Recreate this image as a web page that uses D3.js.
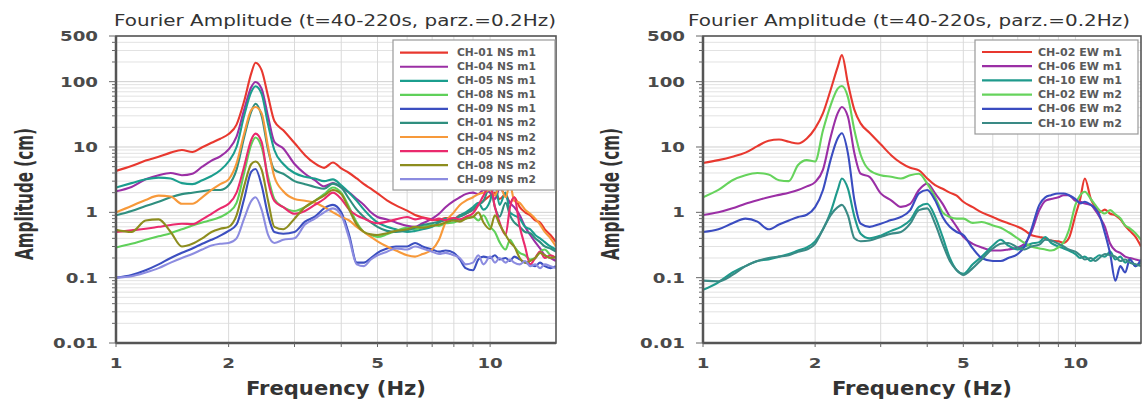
<!DOCTYPE html>
<html>
<head>
<meta charset="utf-8">
<script src="https://cdn.jsdelivr.net/npm/d3@7"></script>
<style>
  body { margin: 0; background: #fff; }
  svg { display: block; }
</style>
</head>
<body>
<div id="chart"></div>
<script>
// frequency grid shared by every curve (Hz)
const freqHz = [1.0, 1.1, 1.2, 1.3, 1.4, 1.5, 1.6, 1.7, 1.8, 1.9,
  2.0, 2.1, 2.2, 2.3, 2.36, 2.45, 2.55, 2.65, 2.8, 3.0,
  3.2, 3.4, 3.6, 3.8, 4.0, 4.2, 4.4, 4.6, 4.8, 5.0,
  5.3, 5.6, 6.0, 6.3, 6.6, 7.0, 7.3, 7.6, 8.0, 8.3,
  8.6, 9.0, 9.3, 9.6, 10.0, 10.3, 10.6, 11.0, 11.3, 11.6,
  12.0, 12.4, 12.8, 13.2, 13.6, 14.0, 14.5, 15.0];

// NS panel (amplitude in cm)
const ns01m1 = [4.3, 5.1, 6.2, 7.1, 8.2, 9.0, 8.4, 9.9, 11.6, 13.4,
  15.8, 22, 50, 135, 195, 150, 60, 25, 18, 11.5,
  7.5, 5.6, 4.8, 5.8, 4.7, 4.0, 3.3, 2.7, 2.3, 1.95,
  1.53, 1.28, 1.06, 0.91, 0.84, 0.78, 0.76, 0.82, 0.8, 0.9,
  0.95, 1.1, 1.3, 1.5, 1.8, 2.0, 1.6, 1.9, 1.4, 1.7,
  1.2, 1.0, 0.9, 0.75, 0.7, 0.55, 0.45, 0.35];
const ns04m1 = [2.1, 2.45, 3.2, 3.7, 4.0, 3.7, 3.9, 5.0, 6.2, 7.2,
  9.2, 14.4, 37, 83, 99, 78, 29, 12, 9.5, 5.5,
  3.9, 3.1, 2.5, 2.8, 2.4, 2.0, 1.6, 1.3, 1.0, 0.85,
  0.78, 0.7, 0.62, 0.6, 0.68, 0.8, 0.95, 1.2, 1.5, 1.7,
  1.9, 2.0, 1.9, 2.2, 2.0, 1.6, 2.3, 1.8, 1.4, 1.2,
  0.9, 0.6, 0.45, 0.35, 0.28, 0.22, 0.2, 0.18];
const ns05m1 = [2.4, 2.8, 3.2, 3.4, 3.3, 2.8, 2.7, 3.1, 3.6, 4.4,
  6.0, 10, 30, 70, 85, 65, 22, 9, 5.5, 4.0,
  3.5, 3.3, 3.0, 3.2, 2.6, 2.0, 1.5, 1.1, 0.85, 0.7,
  0.6, 0.55, 0.5, 0.52, 0.55, 0.6, 0.7, 0.8, 0.75, 0.9,
  1.0, 1.2, 1.4, 1.1, 1.5, 2.8, 1.3, 2.0, 1.0, 0.9,
  0.8, 0.6, 0.55, 0.45, 0.4, 0.35, 0.3, 0.27];
const ns08m1 = [0.29, 0.33, 0.38, 0.43, 0.48, 0.55, 0.63, 0.7, 0.76, 0.85,
  1.0, 1.4, 4, 11, 14, 10, 3.5, 1.6, 1.2, 1.05,
  1.2, 1.5, 1.9, 2.4, 2.0, 1.2, 0.7, 0.5, 0.45, 0.42,
  0.46, 0.52, 0.58, 0.55, 0.6, 0.64, 0.62, 0.68, 0.7, 0.76,
  0.8, 0.86, 0.75, 0.9, 0.6, 0.5, 0.35, 0.27, 0.38, 0.3,
  0.24, 0.22, 0.19, 0.2, 0.25, 0.27, 0.22, 0.2];
const ns09m1 = [0.1, 0.11, 0.13, 0.16, 0.2, 0.24, 0.28, 0.33, 0.38, 0.44,
  0.52, 0.65, 1.6, 4.2, 4.6, 2.6, 0.9, 0.5, 0.47, 0.5,
  0.72, 0.86, 1.15, 1.3, 1.0, 0.45, 0.17, 0.17, 0.2, 0.24,
  0.28, 0.3, 0.3, 0.34, 0.3, 0.27, 0.25, 0.26, 0.24, 0.19,
  0.14, 0.13, 0.19, 0.21, 0.2, 0.22, 0.19, 0.2, 0.18, 0.21,
  0.19, 0.17, 0.16, 0.15, 0.17, 0.15, 0.14, 0.15];
const ns01m2 = [0.9, 1.05, 1.25, 1.45, 1.7, 1.9, 2.0, 2.1, 2.2, 2.2,
  2.6, 4.5, 14, 35, 46, 30, 9, 4.5, 3.9, 3.0,
  2.7, 2.45, 2.3, 2.75, 2.4, 1.6, 1.1, 0.85, 0.7, 0.6,
  0.52, 0.5, 0.53, 0.58, 0.64, 0.68, 0.72, 0.76, 0.8, 0.86,
  0.95, 1.1, 1.3, 1.5, 2.5, 1.2, 0.86, 1.4, 0.9, 0.7,
  0.6, 0.5, 0.48, 0.4, 0.35, 0.3, 0.28, 0.25];
const ns04m2 = [1.0, 1.25, 1.55, 1.8, 1.75, 1.35, 1.35, 1.7, 2.2, 2.7,
  3.2, 5.6, 16, 37, 41, 33, 10, 3.5, 2.1, 1.6,
  1.5, 1.4, 1.2, 1.0, 0.85, 0.75, 0.6, 0.5, 0.42, 0.36,
  0.3, 0.26, 0.22, 0.21, 0.23, 0.27, 0.38, 0.7, 1.0, 1.3,
  1.5, 1.7, 1.9, 2.0, 2.2, 1.8, 2.6, 1.7, 2.7, 1.5,
  1.4, 1.1, 0.95, 0.8, 0.65, 0.5, 0.4, 0.3];
const ns05m2 = [0.5, 0.53, 0.56, 0.6, 0.64, 0.67, 0.66, 0.78, 0.95, 1.15,
  1.35, 2.0, 5, 13, 16, 12, 3, 1.5, 1.2, 0.95,
  1.05, 1.3, 1.6, 2.0, 1.6, 1.1, 0.9, 0.8, 0.72, 0.68,
  0.72, 0.78, 0.85, 0.78, 0.82, 0.76, 0.8, 0.76, 0.82, 0.78,
  0.85, 0.97, 1.3, 1.8, 2.6, 1.2, 0.7, 0.45, 1.2, 1.7,
  0.6, 0.3, 0.16, 0.2, 0.25, 0.2, 0.22, 0.2];
const ns08m2 = [0.54, 0.5, 0.75, 0.78, 0.5, 0.3, 0.33, 0.4, 0.5, 0.56,
  0.6, 0.9, 2.5, 5.5, 6.0, 4.5, 1.5, 0.6, 0.55, 0.8,
  1.2, 1.5, 1.8, 2.2, 1.9, 1.1, 0.65, 0.5, 0.46, 0.45,
  0.48, 0.52, 0.55, 0.6, 0.58, 0.62, 0.65, 0.7, 0.75, 0.72,
  0.8, 0.85, 1.0, 0.7, 0.55, 0.9, 0.65, 0.45, 0.35, 0.3,
  0.2, 0.17, 0.18, 0.2, 0.24, 0.22, 0.2, 0.21];
const ns09m2 = [0.1, 0.105, 0.12, 0.14, 0.17, 0.2, 0.23, 0.27, 0.31, 0.33,
  0.34, 0.4, 0.8, 1.5, 1.7, 1.1, 0.45, 0.34, 0.38, 0.4,
  0.65, 0.8, 1.0, 1.15, 0.9, 0.4, 0.16, 0.15, 0.19, 0.22,
  0.25, 0.28, 0.27, 0.3, 0.28, 0.25, 0.23, 0.24, 0.22, 0.2,
  0.16, 0.17, 0.22, 0.16, 0.21, 0.17, 0.2, 0.17, 0.19, 0.17,
  0.16, 0.18, 0.15, 0.16, 0.14, 0.16, 0.15, 0.14];

// EW panel (amplitude in cm)
const ew02m1 = [5.7, 6.3, 7.1, 8.2, 10.3, 12.5, 13, 12, 11.3, 13.5,
  19.3, 33, 74, 168, 255, 94, 37, 23, 16.5, 11,
  7.5, 5.7, 4.8, 4.4, 3.3, 2.6, 2.3, 2.0, 1.8, 1.45,
  1.2, 1.0, 0.85, 0.75, 0.68, 0.6, 0.53, 0.45, 0.42, 0.4,
  0.37, 0.36, 0.34, 0.4, 0.9, 1.6, 3.3, 1.6, 1.2, 1.0,
  1.1, 0.95, 0.9, 0.78, 0.62, 0.52, 0.42, 0.3];
const ew06m1 = [0.91, 1.0, 1.15, 1.35, 1.53, 1.7, 1.85, 2.0, 2.2, 2.5,
  2.9, 4.5, 14, 33, 41, 29, 8, 3.9, 3.5, 1.95,
  1.53, 1.21, 1.35, 2.2, 2.75, 1.95, 1.35, 0.86, 0.6, 0.42,
  0.33, 0.29, 0.26, 0.26, 0.27, 0.29, 0.33, 0.48, 1.08, 1.5,
  1.6, 1.7, 1.83, 1.83, 1.5, 1.45, 1.37, 1.3, 1.08, 0.86,
  0.6, 0.33, 0.26, 0.24, 0.21, 0.2, 0.19, 0.18];
const ew10m1 = [0.065, 0.085, 0.12, 0.15, 0.18, 0.19, 0.21, 0.23, 0.26, 0.29,
  0.36, 0.55, 1.0, 2.2, 3.3, 2.3, 0.86, 0.47, 0.4, 0.44,
  0.52, 0.6, 0.76, 1.21, 1.35, 0.86, 0.42, 0.2, 0.13, 0.115,
  0.16, 0.21, 0.31, 0.38, 0.31, 0.27, 0.3, 0.33, 0.35, 0.42,
  0.34, 0.3, 0.28, 0.26, 0.23, 0.2, 0.21, 0.18, 0.2, 0.22,
  0.21, 0.25, 0.19, 0.21, 0.17, 0.19, 0.15, 0.17];
const ew02m2 = [1.7, 2.2, 3.1, 3.7, 4.0, 3.8, 3.1, 3.0, 5.3, 6.3,
  6.0, 18, 43, 78, 86, 58, 18, 7.6, 4.4, 3.7,
  3.5, 3.3, 3.7, 3.9, 2.75, 1.7, 1.0, 0.85, 0.8, 0.8,
  0.69, 0.71, 0.63, 0.58, 0.5, 0.4, 0.34, 0.3, 0.28, 0.27,
  0.26, 0.29, 0.35, 0.53, 1.3, 1.83, 2.07, 1.6, 1.3, 1.08,
  0.96, 1.08, 0.93, 0.81, 0.63, 0.57, 0.48, 0.38];
const ew06m2 = [0.5, 0.55, 0.68, 0.8, 0.72, 0.55, 0.65, 0.75, 0.85, 0.92,
  1.2, 2.2, 6.3, 13.6, 16.2, 8, 1.53, 0.67, 0.6, 0.67,
  0.76, 0.85, 1.08, 1.95, 2.2, 1.53, 0.85, 0.6, 0.5, 0.45,
  0.28, 0.2, 0.18, 0.18, 0.2, 0.23, 0.3, 0.53, 1.3, 1.7,
  1.83, 1.94, 1.94, 1.83, 1.6, 1.37, 1.45, 1.3, 1.15, 0.91,
  0.48, 0.23, 0.09, 0.15, 0.12, 0.19, 0.15, 0.19];
const ew10m2 = [0.09, 0.088, 0.11, 0.15, 0.18, 0.2, 0.21, 0.22, 0.25, 0.27,
  0.33, 0.55, 0.9, 1.2, 1.3, 0.9, 0.4, 0.36, 0.37, 0.42,
  0.47, 0.5, 0.67, 1.08, 1.15, 0.67, 0.33, 0.18, 0.13, 0.11,
  0.14, 0.19, 0.28, 0.33, 0.34, 0.29, 0.27, 0.3, 0.32, 0.38,
  0.37, 0.33, 0.3, 0.27, 0.25, 0.22, 0.19, 0.2, 0.18, 0.2,
  0.23, 0.22, 0.21, 0.18, 0.19, 0.17, 0.16, 0.15];

const nsLabels = ['CH-01 NS m1', 'CH-04 NS m1', 'CH-05 NS m1', 'CH-08 NS m1', 'CH-09 NS m1',
  'CH-01 NS m2', 'CH-04 NS m2', 'CH-05 NS m2', 'CH-08 NS m2', 'CH-09 NS m2'];
const nsValues = [ns01m1, ns04m1, ns05m1, ns08m1, ns09m1, ns01m2, ns04m2, ns05m2, ns08m2, ns09m2];
const nsColors = ['#e8382f', '#9b2fa5', '#1b9e8e', '#5fd05a', '#3c4fc0',
  '#2f8f7f', '#f7993a', '#ea2a6d', '#8d8d1e', '#8c8ce0'];

const ewLabels = ['CH-02 EW m1', 'CH-06 EW m1', 'CH-10 EW m1', 'CH-02 EW m2', 'CH-06 EW m2', 'CH-10 EW m2'];
const ewValues = [ew02m1, ew06m1, ew10m1, ew02m2, ew06m2, ew10m2];
const ewColors = ['#e8382f', '#9b2fa5', '#1f9a8c', '#66d35c', '#3a4cc0', '#3a8a85'];

const yTickValues = [0.01, 0.1, 1, 10, 100, 500];
const yTickLabels = ['0.01', '0.1', '1', '10', '100', '500'];
const xTickValues = [1, 2, 5, 10];
const xTickLabels = ['1', '2', '5', '10'];

const titleText = 'Fourier Amplitude (t=40-220s, parz.=0.2Hz)';
const xTitleText = 'Frequency (Hz)';
const yTitleText = 'Amplitude (cm)';

const FONT = 'DejaVu Sans, Verdana, sans-serif';
const TOP = 36, BOTTOM = 343;

const svg = d3.select('#chart')
  .append('svg')
  .attr('width', 1147)
  .attr('height', 399);

// the source picture is stretched sideways, so widen text to match
function widen(sel, factor) {
  sel.each(function () {
    const w = this.getComputedTextLength();
    d3.select(this).attr('textLength', w * factor).attr('lengthAdjust', 'spacingAndGlyphs');
  });
}

function drawPanel(cfg) {
  const x = d3.scaleLog().domain([1, 15]).range([cfg.left, cfg.right]);
  const y = d3.scaleLog().domain([0.01, 500]).range([BOTTOM, TOP]);
  const g = svg.append('g');

  // grid
  g.append('g').selectAll('line')
    .data(y.ticks())
    .join('line')
    .attr('x1', cfg.left).attr('x2', cfg.right)
    .attr('y1', d => y(d)).attr('y2', d => y(d))
    .attr('stroke', d => Math.abs(Math.log10(d) % 1) < 1e-9 ? '#cfcfcf' : '#e2e2e2')
    .attr('stroke-width', 1);

  g.append('g').selectAll('line')
    .data(x.ticks())
    .join('line')
    .attr('x1', d => x(d)).attr('x2', d => x(d))
    .attr('y1', TOP).attr('y2', BOTTOM)
    .attr('stroke', '#dadada')
    .attr('stroke-width', 1);

  // curves
  const clipId = 'clip-' + cfg.id;
  svg.append('clipPath').attr('id', clipId)
    .append('rect')
    .attr('x', cfg.left).attr('y', TOP)
    .attr('width', cfg.right - cfg.left).attr('height', BOTTOM - TOP);

  const line = d3.line()
    .x((d, i) => x(freqHz[i]))
    .y(d => y(d))
    .curve(d3.curveMonotoneX);

  g.append('g')
    .attr('clip-path', 'url(#' + clipId + ')')
    .selectAll('path')
    .data(cfg.values)
    .join('path')
    .attr('fill', 'none')
    .attr('stroke', (d, i) => cfg.colors[i])
    .attr('stroke-width', 2.1)
    .attr('stroke-linejoin', 'round')
    .attr('d', line);

  // frame and axes
  g.append('rect')
    .attr('x', cfg.left).attr('y', TOP)
    .attr('width', cfg.right - cfg.left).attr('height', BOTTOM - TOP)
    .attr('fill', 'none').attr('stroke', '#555').attr('stroke-width', 1.6);
  g.append('line')
    .attr('x1', cfg.left).attr('x2', cfg.left).attr('y1', TOP).attr('y2', BOTTOM)
    .attr('stroke', '#555').attr('stroke-width', 2.5);
  g.append('line')
    .attr('x1', cfg.left).attr('x2', cfg.right).attr('y1', BOTTOM).attr('y2', BOTTOM)
    .attr('stroke', '#555').attr('stroke-width', 2.5);

  g.append('g').selectAll('line')
    .data(y.ticks())
    .join('line')
    .attr('x1', d => cfg.left - (yTickValues.includes(d) ? 7 : 4)).attr('x2', cfg.left)
    .attr('y1', d => y(d)).attr('y2', d => y(d))
    .attr('stroke', '#666').attr('stroke-width', 1);
  g.append('g').selectAll('line')
    .data(x.ticks())
    .join('line')
    .attr('x1', d => x(d)).attr('x2', d => x(d))
    .attr('y1', BOTTOM).attr('y2', BOTTOM + 4)
    .attr('stroke', '#666').attr('stroke-width', 1);

  // tick labels
  g.append('g').selectAll('text')
    .data(yTickValues)
    .join('text')
    .attr('x', cfg.left - 18)
    .attr('y', d => y(d))
    .attr('dy', '0.36em')
    .attr('text-anchor', 'end')
    .attr('font-family', FONT).attr('font-size', 14).attr('font-weight', 'bold')
    .attr('fill', '#4a4a4a')
    .text((d, i) => yTickLabels[i])
    .call(widen, 1.3);

  g.append('g').selectAll('text')
    .data(xTickValues)
    .join('text')
    .attr('x', d => x(d))
    .attr('y', 368)
    .attr('text-anchor', 'middle')
    .attr('font-family', FONT).attr('font-size', 14).attr('font-weight', 'bold')
    .attr('fill', '#4a4a4a')
    .text((d, i) => xTickLabels[i])
    .call(widen, 1.3);

  // titles
  g.append('text')
    .attr('x', cfg.titleX).attr('y', 26)
    .attr('font-family', FONT).attr('font-size', 15)
    .attr('fill', '#333')
    .attr('textLength', 442).attr('lengthAdjust', 'spacingAndGlyphs')
    .text(titleText);

  g.append('text')
    .attr('x', (cfg.left + cfg.right) / 2).attr('y', 395)
    .attr('text-anchor', 'middle')
    .attr('font-family', FONT).attr('font-size', 19).attr('font-weight', 'bold')
    .attr('fill', '#333')
    .attr('textLength', 180).attr('lengthAdjust', 'spacingAndGlyphs')
    .text(xTitleText);

  g.append('text')
    .attr('transform', 'translate(' + cfg.yTitleX + ',194) scale(1.35,1) rotate(-90)')
    .attr('text-anchor', 'middle')
    .attr('font-family', FONT).attr('font-size', 18).attr('font-weight', 'bold')
    .attr('fill', '#333')
    .attr('textLength', 132).attr('lengthAdjust', 'spacingAndGlyphs')
    .text(yTitleText);

  // legend
  const lg = cfg.legend;
  const leg = g.append('g');
  leg.append('rect')
    .attr('x', lg.x).attr('y', lg.y).attr('width', lg.w).attr('height', lg.h)
    .attr('fill', '#fff').attr('stroke', '#999').attr('stroke-width', 1.2);
  const rows = leg.selectAll('g')
    .data(cfg.labels)
    .join('g')
    .attr('transform', (d, i) => 'translate(0,' + (lg.row0 + i * lg.step) + ')');
  rows.append('line')
    .attr('x1', lg.lineX0).attr('x2', lg.lineX1)
    .attr('stroke', (d, i) => cfg.colors[i]).attr('stroke-width', 2.2);
  rows.append('text')
    .attr('x', lg.textX).attr('dy', '0.35em')
    .attr('font-family', FONT).attr('font-size', 10).attr('font-weight', 'bold')
    .attr('fill', '#5a5a5a')
    .attr('textLength', lg.textW).attr('lengthAdjust', 'spacingAndGlyphs')
    .text(d => d);
}

drawPanel({
  id: 'ns', left: 116, right: 556, titleX: 114, yTitleX: 33,
  values: nsValues, colors: nsColors, labels: nsLabels,
  legend: { x: 393, y: 40, w: 162, h: 150, lineX0: 400, lineX1: 448, textX: 457, textW: 79, row0: 52.7, step: 14.05 }
});

drawPanel({
  id: 'ew', left: 703, right: 1141, titleX: 688, yTitleX: 619,
  values: ewValues, colors: ewColors, labels: ewLabels,
  legend: { x: 975, y: 40, w: 163, h: 94, lineX0: 982, lineX1: 1032, textX: 1038, textW: 84, row0: 52, step: 14.2 }
});
</script>
</body>
</html>
